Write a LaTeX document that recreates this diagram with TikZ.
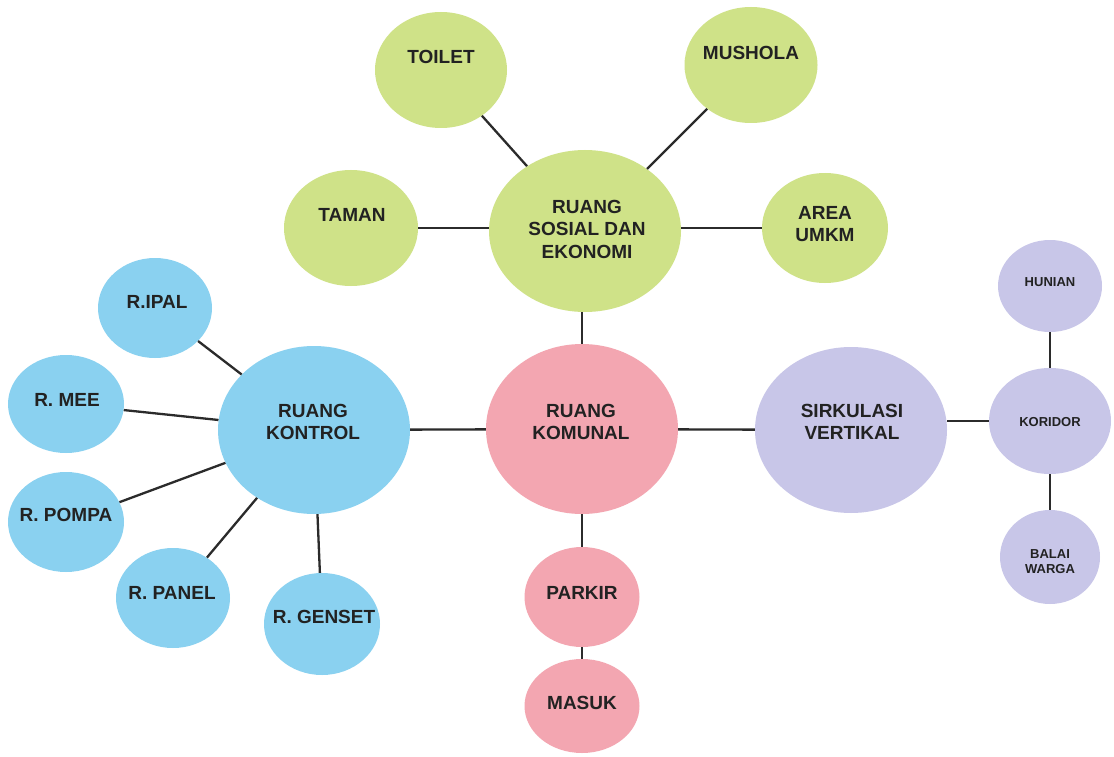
\documentclass[tikz,border=0pt]{standalone}
\usepackage{fontspec}
\setmainfont{Liberation Sans}
\usetikzlibrary{shapes.geometric}
\definecolor{leaf}{HTML}{CFE288}
\definecolor{rose}{HTML}{F3A6B1}
\definecolor{sky}{HTML}{8AD1F0}
\definecolor{lilac}{HTML}{C8C6E8}
\definecolor{ink}{HTML}{222222}
\definecolor{wire}{HTML}{2B2B2B}
\begin{document}
\begin{tikzpicture}[x=1pt,y=-1pt,
  bubble/.style={ellipse,draw=none,inner sep=0pt},
  big/.style={font=\bfseries\fontsize{19}{22.5}\selectfont,text=ink,align=center,inner sep=0pt},
  small/.style={font=\bfseries\fontsize{13}{15}\selectfont,text=ink,align=center,inner sep=0pt},
  link/.style={draw=wire,line width=2.3pt}]
\fill[white] (0,0) rectangle (1114,757);
\useasboundingbox (0,0) rectangle (1114,757);

% social and economic cluster
\node[bubble,fill=leaf,minimum width=132pt,minimum height=116pt] (toilet) at (441,70) {};
\node[bubble,fill=leaf,minimum width=133pt,minimum height=116pt] (mushola) at (751,65) {};
\node[bubble,fill=leaf,minimum width=134pt,minimum height=116pt] (taman) at (351,228) {};
\node[bubble,fill=leaf,minimum width=192pt,minimum height=162pt] (sosial) at (585,231) {};
\node[bubble,fill=leaf,minimum width=126pt,minimum height=110pt] (umkm) at (825,228) {};

% communal core
\node[bubble,fill=rose,minimum width=192pt,minimum height=170pt] (komunal) at (582,429) {};
\node[bubble,fill=rose,minimum width=115pt,minimum height=100pt] (parkir) at (582,597) {};
\node[bubble,fill=rose,minimum width=115pt,minimum height=94pt] (masuk) at (582,706) {};

% control rooms
\node[bubble,fill=sky,minimum width=192pt,minimum height=168pt] (kontrol) at (314,430) {};
\node[bubble,fill=sky,minimum width=114pt,minimum height=100pt] (ipal) at (155,308) {};
\node[bubble,fill=sky,minimum width=116pt,minimum height=98pt] (mee) at (66,404) {};
\node[bubble,fill=sky,minimum width=116pt,minimum height=100pt] (pompa) at (66,522) {};
\node[bubble,fill=sky,minimum width=114pt,minimum height=100pt] (panel) at (173,598) {};
\node[bubble,fill=sky,minimum width=116pt,minimum height=102pt] (genset) at (322,624) {};

% vertical circulation
\node[bubble,fill=lilac,minimum width=192pt,minimum height=166pt] (sirkulasi) at (851,430) {};
\node[bubble,fill=lilac,minimum width=104pt,minimum height=92pt] (hunian) at (1050,286) {};
\node[bubble,fill=lilac,minimum width=122pt,minimum height=106pt] (koridor) at (1050,421) {};
\node[bubble,fill=lilac,minimum width=100pt,minimum height=94pt] (balai) at (1050,557) {};

% connectors
\draw[link] (toilet) -- (sosial);
\draw[link] (mushola) -- (sosial);
\draw[link] (taman.east) -- (taman.east -| sosial.west);
\draw[link] (umkm.west) -- (umkm.west -| sosial.east);
\draw[link] (komunal.north) -- (komunal.north |- sosial.south);
\draw[link] (komunal) -- (kontrol);
\draw[link] (komunal) -- (sirkulasi);
\draw[link] (komunal) -- (parkir);
\draw[link] (parkir) -- (masuk);
\draw[link] (ipal) -- (kontrol);
\draw[link] (mee) -- (kontrol);
\draw[link] (pompa) -- (kontrol);
\draw[link] (panel) -- (kontrol);
\draw[link] (genset) -- (kontrol);
\draw[link] (koridor.west) -- (koridor.west -| sirkulasi.east);
\draw[link] (hunian) -- (koridor);
\draw[link] (koridor) -- (balai);

% labels
\node[big] (toilet-t) at (441,57) {TOILET};
\node[big] (mushola-t) at (751,53) {MUSHOLA};
\node[big] (taman-t) at (352,215) {TAMAN};
\node[big] (sosial-t) at (587,229) {RUANG\\SOSIAL DAN\\EKONOMI};
\node[big] (umkm-t) at (825,224) {AREA\\UMKM};
\node[big] (komunal-t) at (581,422) {RUANG\\KOMUNAL};
\node[big] (parkir-t) at (582,593) {PARKIR};
\node[big] (masuk-t) at (582,703) {MASUK};
\node[big] (kontrol-t) at (313,422) {RUANG\\KONTROL};
\node[big] (ipal-t) at (157,302) {R.IPAL};
\node[big] (mee-t) at (67,400) {R. MEE};
\node[big] (pompa-t) at (66,515) {R. POMPA};
\node[big] (panel-t) at (172,593) {R. PANEL};
\node[big] (genset-t) at (324,617) {R. GENSET};
\node[big] (sirkulasi-t) at (852,422) {SIRKULASI\\VERTIKAL};
\node[small] (hunian-t) at (1050,282) {HUNIAN};
\node[small] (koridor-t) at (1050,422) {KORIDOR};
\node[small] (balai-t) at (1050,562) {BALAI\\WARGA};
\end{tikzpicture}
\end{document}
